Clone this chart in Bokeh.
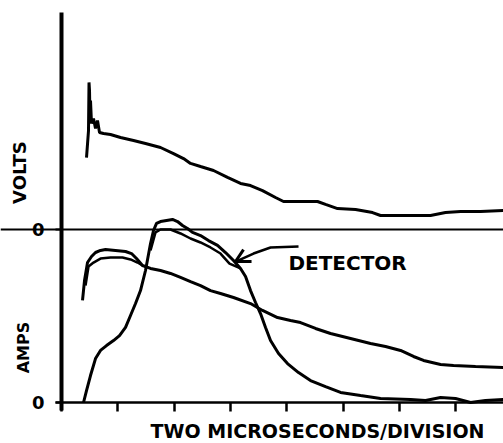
import numpy as np
from bokeh.plotting import figure
from bokeh.models import Range1d, FixedTicker, Span, Label
from bokeh.embed import file_html
from bokeh.resources import INLINE

# time in microseconds (2 us per division)
volts_t = [0.888, 0.959, 0.977, 0.995, 1.012, 1.030, 1.066, 1.137, 1.208, 1.279, 1.350, 1.492,
           1.741, 2.096, 2.558, 2.984, 3.517, 3.979, 4.334, 4.583, 4.938, 5.400, 5.897, 6.359,
           6.714, 7.140, 7.602, 7.886, 8.313, 9.094, 9.378, 9.805, 10.444, 11.048, 11.332,
           12.043, 13.108, 13.641, 14.174, 14.885, 15.70]
volts_v = [0.416, 0.572, 0.850, 0.803, 0.630, 0.746, 0.613, 0.642, 0.584, 0.630, 0.561, 0.555,
           0.549, 0.532, 0.514, 0.497, 0.474, 0.439, 0.410, 0.382, 0.364, 0.341, 0.301, 0.266,
           0.254, 0.225, 0.185, 0.162, 0.162, 0.162, 0.145, 0.121, 0.116, 0.098, 0.081,
           0.081, 0.081, 0.098, 0.104, 0.104, 0.110]

ampsA_t = [0.746, 0.817, 0.924, 1.066, 1.208, 1.385, 1.563, 1.918, 2.274, 2.487, 2.664, 2.877,
           3.162, 3.517, 3.872, 4.227, 4.583, 4.938, 5.293, 5.648, 6.110, 6.714, 7.140, 7.673,
           8.135, 8.490, 9.023, 9.556, 10.266, 10.977, 11.510, 12.043, 12.504, 12.860, 13.464,
           13.925, 14.707, 15.70]
ampsA_v = [0.590, 0.705, 0.809, 0.844, 0.867, 0.879, 0.884, 0.879, 0.873, 0.861, 0.832, 0.792,
           0.775, 0.763, 0.746, 0.723, 0.699, 0.676, 0.647, 0.630, 0.607, 0.572, 0.532, 0.491,
           0.474, 0.462, 0.428, 0.399, 0.370, 0.341, 0.324, 0.301, 0.266, 0.243, 0.220,
           0.214, 0.208, 0.202]
ampsA2_t = [0.853, 0.959, 1.137, 1.385, 1.741, 2.167, 2.451, 2.700, 2.877]
ampsA2_v = [0.676, 0.786, 0.809, 0.832, 0.838, 0.838, 0.827, 0.809, 0.792]

ampsB_t = [0.782, 0.888, 1.030, 1.208, 1.385, 1.599, 1.847, 2.060, 2.274, 2.451, 2.629, 2.806,
           2.984, 3.162, 3.268, 3.375, 3.517, 3.730, 3.943, 4.121, 4.298, 4.476, 4.654, 4.938,
           5.222, 5.542, 5.826, 6.110, 6.359, 6.537, 6.714, 6.892, 7.069, 7.247, 7.425, 7.709,
           8.028, 8.419, 8.845, 9.378, 9.911, 10.622, 11.332, 12.398, 12.931, 13.464, 13.997,
           14.530, 15.06, 15.70]
ampsB_v = [0.0, 0.069, 0.156, 0.254, 0.301, 0.329, 0.358, 0.387, 0.434, 0.503, 0.572, 0.647,
           0.763, 0.919, 0.994, 1.035, 1.046, 1.052, 1.058, 1.046, 1.023, 1.006, 0.983, 0.965,
           0.936, 0.908, 0.867, 0.821, 0.775, 0.728, 0.647, 0.578, 0.514, 0.434, 0.358, 0.283,
           0.225, 0.173, 0.127, 0.092, 0.058, 0.040, 0.023, 0.017, 0.012, 0.029, 0.023,
           0.0, 0.012, 0.017]
ampsB2_t = [3.162, 3.339, 3.517, 3.872, 4.227, 4.583, 4.938, 5.293, 5.648, 5.967, 6.359]
ampsB2_v = [0.879, 0.983, 1.000, 1.000, 0.977, 0.948, 0.925, 0.896, 0.861, 0.803, 0.775]

x_ticks = [0, 2, 4, 6, 8, 10, 12, 14]
x_tick_labels = {t: "" for t in x_ticks}
volts_zero = 1.0
y_ticks = [0.0, volts_zero]
y_tick_labels = {0: "0", 1: "0"}

p = figure(width=503, height=443, output_backend="svg", toolbar_location=None,
           x_range=Range1d(-2.167, 15.70), y_range=Range1d(-0.237, 2.3237),
           min_border=0, min_border_left=0, min_border_top=0, min_border_bottom=0,
           min_border_right=0)
p.background_fill_color = "white"
p.border_fill_color = "white"
p.outline_line_color = None
p.grid.visible = False

p.xaxis.fixed_location = 0
p.xaxis.bounds = (-0.213, 15.70)
p.xaxis.ticker = FixedTicker(ticks=x_ticks)
p.xaxis.major_label_overrides = x_tick_labels
p.xaxis.major_label_standoff = 0
p.xaxis.major_tick_out = 9
p.xaxis.major_tick_in = 0
p.xaxis.minor_tick_line_color = None
p.xaxis.axis_line_width = 2.5
p.xaxis.major_tick_line_width = 2.5
p.xaxis.axis_line_color = "black"

p.yaxis.fixed_location = 0
p.yaxis.bounds = (-0.046, 2.254)
p.yaxis.ticker = FixedTicker(ticks=y_ticks)
p.yaxis.major_label_overrides = y_tick_labels
p.yaxis.major_label_text_font = "DejaVu Sans"
p.yaxis.major_label_text_font_style = "bold"
p.yaxis.major_label_text_font_size = "18px"
p.yaxis.major_label_text_color = "black"
p.yaxis.major_label_standoff = 11
p.yaxis.major_tick_out = 6
p.yaxis.major_tick_in = 0
p.yaxis.minor_tick_line_color = None
p.yaxis.axis_line_width = 4
p.yaxis.major_tick_line_width = 2

p.add_layout(Span(location=volts_zero, dimension="width", line_color="black", line_width=2))

lw = 3
p.line(volts_t, [volts_zero + v for v in volts_v], line_color="black", line_width=lw)
p.line(ampsA_t, ampsA_v, line_color="black", line_width=lw)
p.line(ampsA2_t, ampsA2_v, line_color="black", line_width=2.5)
p.line(ampsB_t, ampsB_v, line_color="black", line_width=lw)
p.line(ampsB2_t, ampsB2_v, line_color="black", line_width=2.5)

# arrow pointing from the label to the detector trace
arrow_x = [8.419, 7.425, 6.821, 6.288, 6.181]
arrow_y = [0.902, 0.896, 0.861, 0.821, 0.815]
p.line(arrow_x, arrow_y, line_color="black", line_width=2.5)
p.multi_line([[6.465, 6.181, 6.75]], [[0.884, 0.815, 0.815]], line_color="black", line_width=3)

font = "DejaVu Sans"
p.add_layout(Label(x=8.06, y=0.809, text="DETECTOR", text_font=font, text_font_style="bold",
                   text_font_size="20px", text_baseline="middle", text_align="left",
                   text_color="black"))
p.add_layout(Label(x=-1.492, y=1.329, text="VOLTS", angle=np.pi / 2, text_font=font,
                   text_font_style="bold", text_font_size="18px", text_baseline="middle",
                   text_align="center", text_color="black"))
p.add_layout(Label(x=-1.35, y=0.318, text="AMPS", angle=np.pi / 2, text_font=font,
                   text_font_style="bold", text_font_size="16px", text_baseline="middle",
                   text_align="center", text_color="black"))
p.add_layout(Label(x=9.094, y=-0.165, text="TWO MICROSECONDS/DIVISION", text_font=font,
                   text_font_style="bold", text_font_size="19px", text_baseline="middle",
                   text_align="center", text_color="black"))

open("out.html", "w").write(file_html(p, INLINE))
